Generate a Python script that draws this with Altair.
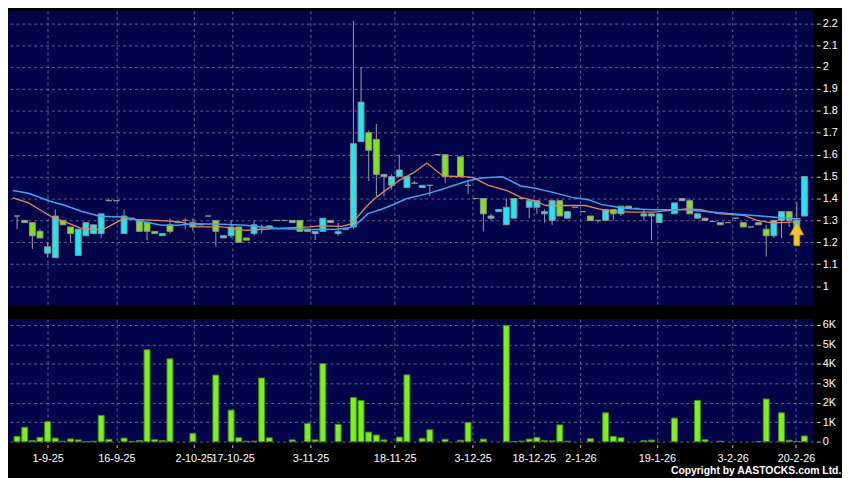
import altair as alt
import pandas as pd

# ---- candles (index order, left to right) ----
opens = [1.32, 1.30, 1.29, 1.25, 1.15, 1.13, 1.30, 1.27, 1.14, 1.23,
         1.24, 1.24, 1.39, 1.39, 1.24, 1.31, 1.30, 1.29, 1.25, 1.23,
         1.28, 1.29, 1.30, 1.29, 1.28, 1.32, 1.30, 1.22, 1.23, 1.27,
         1.22, 1.24, 1.26, 1.265, 1.30, 1.30, 1.29, 1.30, 1.26, 1.24,
         1.25, 1.30, 1.24, 1.26, 1.27, 1.66, 1.70, 1.67, 1.50, 1.46,
         1.50, 1.45, 1.47, 1.45, 1.46, 1.60, 1.60, 1.50, 1.59, 1.46,
         1.40, 1.40, 1.31, 1.34, 1.28, 1.31, 1.40, 1.36, 1.36, 1.33,
         1.30, 1.39, 1.31, 1.36, 1.34, 1.32, 1.30, 1.30, 1.35, 1.33,
         1.365, 1.355, 1.32, 1.32, 1.29, 1.345, 1.33, 1.39, 1.39, 1.31,
         1.31, 1.295, 1.29, 1.29, 1.31, 1.29, 1.27, 1.29, 1.26, 1.23,
         1.30, 1.34, 1.26, 1.32]
highs = [1.32, 1.30, 1.29, 1.26, 1.20, 1.35, 1.30, 1.27, 1.26, 1.29,
         1.28, 1.33, 1.40, 1.39, 1.35, 1.31, 1.30, 1.29, 1.25, 1.24,
         1.31, 1.29, 1.31, 1.31, 1.28, 1.32, 1.30, 1.23, 1.30, 1.27,
         1.22, 1.30, 1.28, 1.275, 1.30, 1.30, 1.30, 1.30, 1.26, 1.25,
         1.31, 1.30, 1.29, 1.26, 2.21, 2.00, 1.71, 1.74, 1.51, 1.51,
         1.60, 1.50, 1.48, 1.46, 1.46, 1.60, 1.60, 1.50, 1.59, 1.48,
         1.40, 1.40, 1.33, 1.35, 1.40, 1.40, 1.40, 1.39, 1.39, 1.35,
         1.39, 1.39, 1.34, 1.36, 1.34, 1.32, 1.30, 1.35, 1.35, 1.365,
         1.365, 1.355, 1.35, 1.33, 1.33, 1.345, 1.38, 1.40, 1.40, 1.33,
         1.31, 1.295, 1.29, 1.29, 1.31, 1.29, 1.27, 1.29, 1.28, 1.30,
         1.34, 1.34, 1.38, 1.50]
lows = [1.26, 1.29, 1.17, 1.22, 1.13, 1.13, 1.28, 1.20, 1.14, 1.23,
        1.24, 1.22, 1.39, 1.39, 1.24, 1.31, 1.25, 1.21, 1.24, 1.23,
        1.24, 1.29, 1.26, 1.25, 1.28, 1.32, 1.18, 1.22, 1.22, 1.20,
        1.21, 1.23, 1.24, 1.265, 1.30, 1.30, 1.29, 1.25, 1.25, 1.21,
        1.25, 1.29, 1.23, 1.26, 1.26, 1.66, 1.48, 1.41, 1.41, 1.44,
        1.50, 1.45, 1.465, 1.45, 1.41, 1.60, 1.47, 1.50, 1.50, 1.42,
        1.40, 1.25, 1.30, 1.34, 1.28, 1.31, 1.40, 1.31, 1.33, 1.29,
        1.28, 1.32, 1.31, 1.36, 1.34, 1.30, 1.29, 1.30, 1.30, 1.32,
        1.355, 1.355, 1.30, 1.21, 1.29, 1.345, 1.33, 1.39, 1.33, 1.31,
        1.30, 1.295, 1.28, 1.29, 1.31, 1.27, 1.27, 1.28, 1.135, 1.22,
        1.22, 1.27, 1.26, 1.32]
closes = [1.32, 1.29, 1.23, 1.22, 1.18, 1.32, 1.28, 1.24, 1.26, 1.29,
          1.28, 1.33, 1.39, 1.39, 1.32, 1.31, 1.25, 1.25, 1.24, 1.24,
          1.25, 1.29, 1.30, 1.27, 1.28, 1.32, 1.25, 1.23, 1.27, 1.20,
          1.21, 1.28, 1.26, 1.275, 1.30, 1.30, 1.30, 1.25, 1.25, 1.25,
          1.31, 1.29, 1.25, 1.26, 1.65, 1.84, 1.62, 1.51, 1.51, 1.50,
          1.53, 1.50, 1.47, 1.46, 1.46, 1.60, 1.50, 1.50, 1.50, 1.46,
          1.40, 1.33, 1.32, 1.35, 1.36, 1.40, 1.40, 1.39, 1.39, 1.34,
          1.39, 1.32, 1.34, 1.36, 1.34, 1.30, 1.30, 1.35, 1.33, 1.365,
          1.355, 1.355, 1.33, 1.33, 1.33, 1.345, 1.38, 1.40, 1.33, 1.33,
          1.30, 1.295, 1.28, 1.29, 1.31, 1.27, 1.27, 1.28, 1.23, 1.30,
          1.34, 1.30, 1.30, 1.50]
volumes = [270, 740, 60, 220, 1030, 180, 20, 140, 90, 10,
           20, 1350, 120, 0, 180, 10, 60, 4720, 100, 60,
           4260, 0, 0, 420, 0, 0, 3420, 0, 1620, 200,
           20, 20, 3270, 200, 0, 0, 90, 0, 930, 90,
           4010, 0, 890, 0, 2270, 2110, 490, 340, 90, 0,
           230, 3430, 0, 170, 610, 0, 120, 0, 70, 980,
           0, 130, 0, 0, 5980, 10, 30, 130, 220, 50,
           40, 860, 20, 0, 0, 150, 0, 1480, 270, 200,
           0, 0, 50, 80, 0, 0, 1210, 0, 0, 2120,
           100, 0, 20, 0, 0, 0, 0, 10, 2190, 0,
           1480, 70, 10, 290]

# ---- moving averages (candle index, price) ----
ma_fast_idx = [-0.54, 1.5, 3.1, 4.7, 6.3, 8.2, 10, 11.3, 12.5, 13.9, 15.8, 18.4,
               21.4, 23.5, 26.9, 29.8, 32, 34.1, 38.3, 39.6, 42.5, 43.8, 45.6,
               46.8, 48.5, 50.1, 51.9, 53.6, 55.7, 58.3, 59.6, 61.6, 64.1, 65.9,
               67.6, 69.2, 71.4, 74.3, 76.1, 77.7, 80.3, 83.2, 87.5, 89.5, 91.7,
               95.1, 96.8, 98.9, 101.5, 102.3]
ma_fast_val = [1.403, 1.38, 1.346, 1.313, 1.293, 1.266, 1.259, 1.259, 1.282, 1.308,
               1.304, 1.30, 1.293, 1.27, 1.27, 1.255, 1.259, 1.263, 1.27, 1.275,
               1.273, 1.285, 1.36, 1.40, 1.445, 1.485, 1.518, 1.562, 1.503, 1.50,
               1.496, 1.461, 1.436, 1.405, 1.39, 1.368, 1.368, 1.368, 1.353, 1.342,
               1.338, 1.338, 1.353, 1.349, 1.331, 1.323, 1.30, 1.288, 1.293, 1.30]
ma_slow_idx = [-0.54, 1.5, 4.4, 6.3, 8.5, 10.8, 13.8, 15.8, 18.9, 20.9, 23.1, 26.9,
               29.8, 34.1, 38.3, 41.8, 43.4, 44.3, 45.9, 47.6, 49.4, 51, 53.6,
               55.7, 59, 60.8, 63.5, 65, 65.9, 67.6, 70.1, 72.6, 74.8, 76.4, 78.6,
               80.3, 83.2, 87.5, 90.8, 94.2, 97.7, 101.5, 102.5]
ma_slow_val = [1.436, 1.424, 1.386, 1.368, 1.341, 1.319, 1.316, 1.30, 1.278, 1.278,
               1.285, 1.282, 1.278, 1.263, 1.259, 1.260, 1.266, 1.280, 1.331, 1.350,
               1.375, 1.400, 1.421, 1.443, 1.481, 1.493, 1.499, 1.473, 1.457, 1.448,
               1.428, 1.405, 1.394, 1.373, 1.36, 1.353, 1.349, 1.349, 1.338, 1.328,
               1.319, 1.308, 1.308]

# ---- axis ticks ----
date_tick_idx = [4, 13, 23.1, 28.2, 38.4, 49.4, 59.6, 67.6, 73.7, 83.7, 93.6, 101.9]
date_tick_lbl = ["1-9-25", "16-9-25", "2-10-25", "17-10-25", "3-11-25", "18-11-25",
                 "3-12-25", "18-12-25", "2-1-26", "19-1-26", "3-2-26", "20-2-26"]
price_ticks = [1.0, 1.1, 1.2, 1.3, 1.4, 1.5, 1.6, 1.7, 1.8, 1.9, 2.0, 2.1, 2.2]
vol_ticks = [0, 1000, 2000, 3000, 4000, 5000, 6000]

# marker arrow on the latest bar
arrow_idx = [102]
arrow_price = [1.238]

CYAN = "#20e6f2"
GREEN = "#7ee21e"
VOLG = "#7ff01e"
NAVY = "#03034a"
GRID = "#6c6c98"
FONT = "Liberation Sans"

n = len(opens)
rows = []
for i in range(n):
    o, c = opens[i], closes[i]
    d = "up" if c > o else ("down" if c < o else "flat")
    rows.append({"i": i, "open": o, "high": highs[i], "low": lows[i],
                 "close": c, "dir": d, "vol": volumes[i]})
df = pd.DataFrame(rows)
fast = pd.DataFrame({"i": ma_fast_idx, "v": ma_fast_val})
slow = pd.DataFrame({"i": ma_slow_idx, "v": ma_slow_val})
arrow = pd.DataFrame({"i": arrow_idx, "v": arrow_price})

W = 815
xscale = alt.Scale(domain=[-0.54, 103.52], nice=False, zero=False)
pscale = alt.Scale(domain=[0.9128, 2.2564], nice=False, zero=False)
vscale = alt.Scale(domain=[0, 6300], nice=False, zero=False)

grid_common = dict(grid=True, gridColor=GRID, gridDash=[3, 3], gridWidth=1, gridOpacity=0.9)

x_top_axis = alt.Axis(values=date_tick_idx, labels=False, ticks=False, domain=False,
                      title=None, **grid_common)
price_axis = alt.Axis(values=price_ticks, orient="right", title=None, format="~g",
                      domain=False, offset=3, tickSize=4, labelPadding=2, **grid_common)

label_expr = ""
for v, t in zip(date_tick_idx, date_tick_lbl):
    label_expr += f"datum.value == {v} ? '{t}' : "
label_expr += "''"

x_bot_axis = alt.Axis(values=date_tick_idx, labelExpr=label_expr, title=None, domain=False,
                      offset=3, tickSize=3, labelPadding=5, labelOverlap=False,
                      labelFlush=False, **grid_common)
vol_axis = alt.Axis(values=vol_ticks, orient="right", title=None, domain=False,
                    offset=3, tickSize=4, labelPadding=2,
                    labelExpr="datum.value == 0 ? '0' : (datum.value / 1000) + 'K'",
                    **grid_common)

X = alt.X("i:Q", scale=xscale, axis=x_top_axis)

wicks = alt.Chart(df).mark_rule(color="#9c9c9c", strokeWidth=1).encode(
    x=X,
    y=alt.Y("low:Q", scale=pscale, axis=price_axis),
    y2="high:Q",
)
bodies = alt.Chart(df).mark_bar(size=6, stroke="#8e8e8e", strokeWidth=1).encode(
    x=X,
    y=alt.Y("open:Q", scale=pscale, axis=price_axis),
    y2="close:Q",
    color=alt.Color("dir:N", scale=alt.Scale(domain=["up", "down", "flat"],
                                             range=[CYAN, GREEN, "#9c9c9c"]), legend=None),
)
fast_line = alt.Chart(fast).mark_line(color="#e0865a", strokeWidth=1.3).encode(
    x=X, y=alt.Y("v:Q", scale=pscale, axis=price_axis))
slow_line = alt.Chart(slow).mark_line(color="#3aa6f0", strokeWidth=1.5).encode(
    x=X, y=alt.Y("v:Q", scale=pscale, axis=price_axis))
arrow_path = "M0,-1 L0.6,0.08 L0.25,0.08 L0.25,1 L-0.25,1 L-0.25,0.08 L-0.6,0.08 Z"
arrow_mark = alt.Chart(arrow).mark_point(shape=arrow_path, size=576, filled=True,
                                         fill="#f4c22c", stroke="#b8860b", strokeWidth=0.6,
                                         opacity=1).encode(
    x=X, y=alt.Y("v:Q", scale=pscale, axis=price_axis))

price = alt.layer(wicks, bodies, fast_line, slow_line, arrow_mark).properties(
    width=W, height=298)

vol = alt.Chart(df[df["vol"] > 0]).mark_bar(size=6, fill=VOLG, stroke="#3f8f12",
                                            strokeWidth=1).encode(
    x=alt.X("i:Q", scale=xscale, axis=x_bot_axis),
    y=alt.Y("vol:Q", scale=vscale, axis=vol_axis),
).properties(width=W, height=124)

chart = alt.vconcat(price, vol, spacing=13).properties(
    padding={"left": 0, "top": 0, "right": 0, "bottom": 0},
    title=alt.TitleParams(text="Copyright by AASTOCKS.com Ltd.", orient="bottom",
                          anchor="end", color="white", fontSize=10.5, fontWeight="bold",
                          font=FONT, offset=3, dx=4),
).configure(background="#000000").configure_view(fill=NAVY, stroke=None).configure_axis(
    labelColor="white", labelFont=FONT, labelFontSize=11, tickColor="#c8c8c8",
    tickWidth=1,
)

chart.save("out.html", embed_options={"renderer": "svg", "actions": False})
